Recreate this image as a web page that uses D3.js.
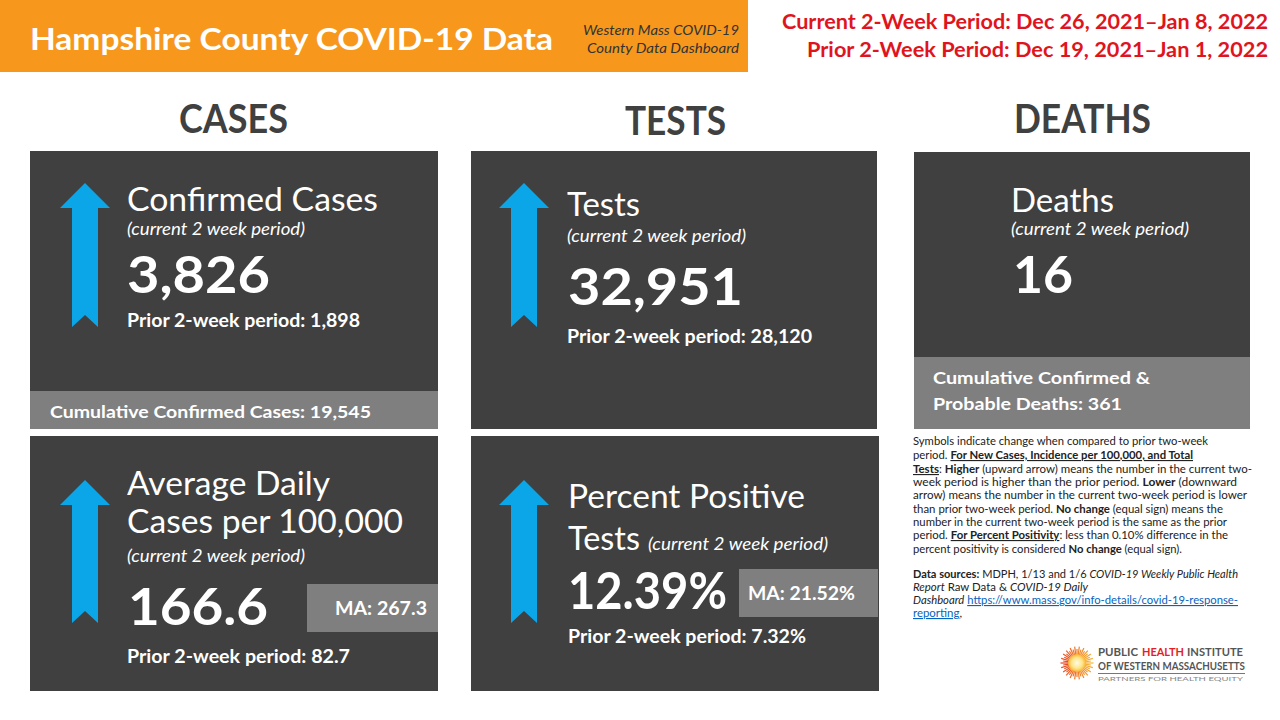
<!DOCTYPE html>
<html><head><meta charset="utf-8">
<script src="https://cdn.jsdelivr.net/npm/d3@7"></script>
<style>html,body{margin:0;padding:0;background:#fff;overflow:hidden}svg{display:block}</style>
</head><body><svg id="c" width="1280" height="720"></svg>
<script>
// ---------- data ----------
const headerTitle = "Hampshire County COVID-19 Data";
const headerSub = ["Western Mass COVID-19", "County Data Dashboard"];
const periodLines = ["Current 2-Week Period: Dec 26, 2021\u2013Jan 8, 2022", "Prior 2-Week Period: Dec 19, 2021\u2013Jan 1, 2022"];
const sectionLabels = ["CASES", "TESTS", "DEATHS"];
const metricTitleLines = [["Confirmed Cases"], ["Tests"], ["Deaths"], ["Average Daily", "Cases per 100,000"], ["Percent Positive", "Tests"]];
const currentValues = [3826, 32951, 16, 166.6, 12.39];
const priorValues = [1898, 28120, null, 82.7, 7.32];
const maValues = [null, null, null, 267.3, 21.52];
const trendDirections = ["up", "up", null, "up", "up"];
const valueFormats = [",", ",", ",", ".1f", ".2f"];
const valueSuffix = ["", "", "", "", "%"];
const cumulativeLabels = ["Cumulative Confirmed Cases:", null, "Cumulative Confirmed &|Probable Deaths:"];
const cumulativeValues = [19545, null, 361];
const periodNote = "(current 2 week period)";
const priorLabel = "Prior  2-week period:";
const logoWords = ["PUBLIC", "HEALTH", "INSTITUTE"];

// ---------- layout ----------
const svg = d3.select("#c");
const FONT = "Lato, 'Open Sans', sans-serif";
const DARK = "#404040", BAND = "#7f7f7f", BLUE = "#0aa6e8", ORANGE = "#f7981d", RED = "#e0141c";

function txt(x, y, s, o = {}) {
  const t = svg.append("text").attr("x", x).attr("y", y).text(s)
    .attr("font-family", FONT).attr("font-size", o.fs || 16)
    .attr("font-weight", o.fw || "normal").attr("font-style", o.it ? "italic" : "normal")
    .attr("fill", o.fill || "#fff").attr("text-anchor", o.anchor || "start");
  if (o.w) t.attr("textLength", o.w).attr("lengthAdjust", "spacingAndGlyphs");
  return t;
}

// header
svg.append("rect").attr("x", 0).attr("y", 0).attr("width", 748).attr("height", 72).attr("fill", ORANGE);
txt(30, 50, headerTitle, { fs: 30, fw: "bold", w: 523 });
txt(739, 35, headerSub[0], { fs: 14, it: true, fill: "#333", anchor: "end", w: 156 });
txt(739, 53, headerSub[1], { fs: 14, it: true, fill: "#333", anchor: "end", w: 152 });
txt(1268, 29, periodLines[0], { fs: 20, fw: "bold", fill: RED, anchor: "end", w: 486 });
txt(1268, 57, periodLines[1], { fs: 20, fw: "bold", fill: RED, anchor: "end", w: 461 });

// sections
const sectionX = d3.scaleOrdinal().domain(sectionLabels).range([233.5, 675.5, 1082.5]);
const sectionW = [109, 101, 137];
const sectionY = [133, 135, 133];
sectionLabels.forEach((s, i) => txt(sectionX(s), sectionY[i], s, { fs: 40, fw: "bold", fill: DARK, anchor: "middle", w: sectionW[i] }));

// panel layouts
const L = [
  { box: [30, 151, 408, 278], band: [391, 38], arrow: [85, 183, 327],
    title: [[127, 211, 251]], sub: [127, 235, 178], big: [127, 293, 143], prior: [127, 327, 233],
    cum: [[50, 418, 321]] },
  { box: [471, 151, 406, 278], arrow: [524, 183, 327],
    title: [[567, 216, 73]], sub: [567, 242, 179], big: [568, 305, 175], prior: [567, 343, 245] },
  { box: [914, 152, 336, 277], band: [357, 72],
    title: [[1011, 212, 103]], sub: [1011, 235, 178], big: [1013, 293, 60],
    cum: [[933, 384, 217], [933, 410, 189]] },
  { box: [30, 436, 408, 255], arrow: [85, 480, 623],
    title: [[127, 495, 203], [127, 533, 276]], sub: [127, 562, 178], big: [128, 625, 140], prior: [127, 663, 223],
    ma: [307, 584, 131, 48, 335, 615, 92] },
  { box: [471, 436, 408, 255], arrow: [524, 480, 623],
    title: [[568, 508, 237], [568, 550, 72]], sub: [648, 550, 180], big: [568, 609, 159], prior: [568, 643, 238],
    ma: [739, 569, 139, 48, 748, 600, 107] }
];

function arrowPath(cx, top, bottom) {
  const hw = 25, sw = 13, hh = 25, n = 12;
  const p = d3.path();
  p.moveTo(cx, top); p.lineTo(cx + hw, top + hh); p.lineTo(cx + sw, top + hh);
  p.lineTo(cx + sw, bottom); p.lineTo(cx, bottom - n); p.lineTo(cx - sw, bottom);
  p.lineTo(cx - sw, top + hh); p.lineTo(cx - hw, top + hh); p.closePath();
  return p.toString();
}

L.forEach((l, i) => {
  const [bx, by, bw, bh] = l.box;
  svg.append("rect").attr("x", bx).attr("y", by).attr("width", bw).attr("height", bh).attr("fill", DARK);
  if (l.band) svg.append("rect").attr("x", bx).attr("y", l.band[0]).attr("width", bw).attr("height", l.band[1]).attr("fill", BAND);
  if (l.arrow && trendDirections[i] === "up") svg.append("path").attr("d", arrowPath(...l.arrow)).attr("fill", BLUE);
  metricTitleLines[i].forEach((s, k) => txt(l.title[k][0], l.title[k][1], s, { fs: 32, w: l.title[k][2] }));
  txt(l.sub[0], l.sub[1], periodNote, { fs: 17, it: true, w: l.sub[2] });
  const f = d3.format(valueFormats[i]);
  txt(l.big[0], l.big[1], f(currentValues[i]) + valueSuffix[i], { fs: 52, fw: "bold", w: l.big[2] });
  if (priorValues[i] != null)
    txt(l.prior[0], l.prior[1], priorLabel + " " + f(priorValues[i]) + valueSuffix[i], { fs: 18, fw: "bold", w: l.prior[2] });
  if (cumulativeValues[i] != null) {
    const parts = cumulativeLabels[i].split("|");
    parts[parts.length - 1] += " " + d3.format(",")(cumulativeValues[i]);
    parts.forEach((s, k) => txt(l.cum[k][0], l.cum[k][1], s, { fs: 17, fw: "bold", w: l.cum[k][2] }));
  }
  if (l.ma && maValues[i] != null) {
    const [mx, my, mw, mh, tx, ty, tw] = l.ma;
    svg.append("rect").attr("x", mx).attr("y", my).attr("width", mw).attr("height", mh).attr("fill", BAND);
    txt(tx, ty, "MA: " + f(maValues[i]) + valueSuffix[i], { fs: 18, fw: "bold", w: tw });
  }
});

// notes
const notes = [
  [[{ t: "Symbols indicate change when compared to prior two-week" }], 445, 295],
  [[{ t: "period.  " }, { t: "For New Cases, Incidence per 100,000, and Total", b: 1, u: 1 }], 459, 280],
  [[{ t: "Tests", b: 1, u: 1 }, { t: ": " }, { t: "Higher", b: 1 }, { t: " (upward arrow) means the number in the current two-" }], 473, 339],
  [[{ t: "week period is higher than the prior period. " }, { t: "Lower", b: 1 }, { t: " (downward" }], 486, 324],
  [[{ t: "arrow) means the number in the current two-week period is lower" }], 499, 334],
  [[{ t: "than prior two-week period. " }, { t: "No change", b: 1 }, { t: " (equal sign) means the" }], 513, 310],
  [[{ t: "number in the current two-week period is the same as the prior" }], 526, 314],
  [[{ t: "period.  " }, { t: "For Percent Positivity", b: 1, u: 1 }, { t: ":  less than 0.10% difference in the" }], 539, 315],
  [[{ t: "percent positivity is considered " }, { t: "No change", b: 1 }, { t: " (equal sign)." }], 553, 269],
  [[{ t: "Data sources:", b: 1 }, { t: "  MDPH, 1/13 and 1/6 " }, { t: "COVID-19 Weekly Public Health", i: 1 }], 578, 325],
  [[{ t: "Report", i: 1 }, { t: " Raw Data & " }, { t: "COVID-19 Daily", i: 1 }], 591, 175],
  [[{ t: "Dashboard", i: 1 }, { t: " " }, { t: "https://www.mass.gov/info-details/covid-19-response-", u: 1, link: 1 }], 604, 325],
  [[{ t: "reporting", u: 1, link: 1 }, { t: "," }], 617, 49]
];
notes.forEach(([parts, y, w]) => {
  const t = svg.append("text").attr("x", 913).attr("y", y).attr("font-family", FONT).attr("font-size", 11.3).attr("fill", "#222")
    .attr("textLength", w).attr("lengthAdjust", "spacingAndGlyphs");
  parts.forEach(p => {
    const s = t.append("tspan").text(p.t);
    if (p.b) s.attr("font-weight", "bold");
    if (p.i) s.attr("font-style", "italic");
    if (p.u) s.attr("text-decoration", "underline");
    if (p.link) s.attr("fill", "#0563c1");
  });
});

// logo
const lg = svg.append("g").attr("transform", "translate(1077,663)");
const rays = d3.range(44);
const rayColor = d3.scaleLinear().domain([0, 22, 43]).range(["#f9b233", "#e8431f", "#f9b233"]);
lg.selectAll("line").data(rays).join("line")
  .attr("x1", d => 8 * Math.cos(d / 44 * 2 * Math.PI)).attr("y1", d => 8 * Math.sin(d / 44 * 2 * Math.PI))
  .attr("x2", d => (d % 2 ? 14 : 16.5) * Math.cos(d / 44 * 2 * Math.PI)).attr("y2", d => (d % 2 ? 14 : 16.5) * Math.sin(d / 44 * 2 * Math.PI))
  .attr("stroke", d => rayColor(d)).attr("stroke-width", 1.2);
const grad = svg.append("defs").append("radialGradient").attr("id", "sun");
grad.append("stop").attr("offset", "0%").attr("stop-color", "#fffbe6");
grad.append("stop").attr("offset", "60%").attr("stop-color", "#fde68a");
grad.append("stop").attr("offset", "100%").attr("stop-color", "#f9b233");
lg.append("circle").attr("r", 9).attr("fill", "url(#sun)");
const logoPos = [[1098, 40], [1142, 42], [1187, 56]];
logoWords.forEach((w, k) => txt(logoPos[k][0], 656, w, { fs: 11, fw: "bold", fill: w === "HEALTH" ? "#e31e24" : "#555", w: logoPos[k][1] }));
txt(1098, 670, "OF WESTERN MASSACHUSETTS", { fs: 11, fw: "bold", fill: "#555", w: 147 });
svg.append("line").attr("x1", 1098).attr("x2", 1245).attr("y1", 673.5).attr("y2", 673.5).attr("stroke", "#777").attr("stroke-width", 1);
txt(1098, 681, "PARTNERS FOR HEALTH EQUITY", { fs: 5, fill: "#888", w: 145 });
</script></body></html>
